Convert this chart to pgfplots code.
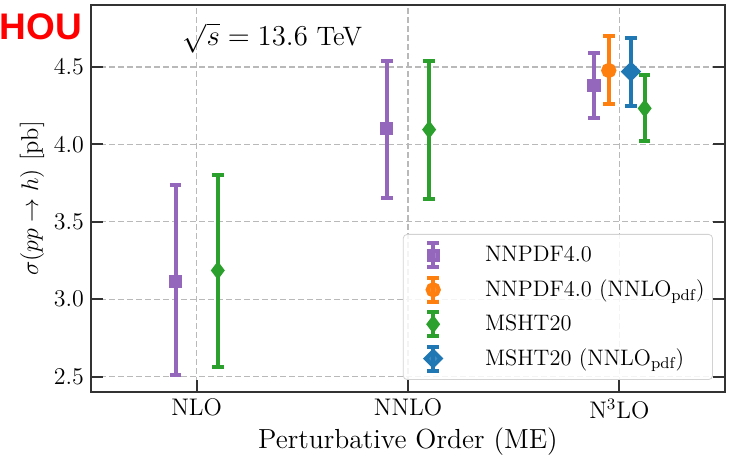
\documentclass[border=0pt]{standalone}
\usepackage{fontspec}
\usepackage{pgfplots}
\pgfplotsset{compat=1.18}
\newfontfamily\houfont{Liberation Sans}
\definecolor{tpurple}{HTML}{9467BD}
\definecolor{torange}{HTML}{FF7F0E}
\definecolor{tgreen}{HTML}{2CA02C}
\definecolor{tblue}{HTML}{1F77B4}
\definecolor{axgray}{HTML}{333333}
\pgfplotsset{
  ebar/.style={only marks, line width=2pt,
    error bars/y dir=both, error bars/y explicit,
    error bars/error bar style={line width=2pt},
    error bars/error mark options={rotate=90, mark size=2.9pt, line width=2pt}},
}
\newcommand{\lgap}{\hspace*{20pt}}
\begin{document}
\begin{tikzpicture}
\begin{axis}[
  scale only axis, width=317pt, height=193.5pt,
  xmin=-0.5, xmax=2.5, ymin=2.4, ymax=4.9,
  xtick={0,1,2}, xticklabels={NLO,NNLO,N$^3$LO},
  ytick={2.5,3.0,3.5,4.0,4.5},
  yticklabels={$2.5$,$3.0$,$3.5$,$4.0$,$4.5$},
  xtick pos=left, ytick pos=both,
  tick align=inside, major tick length=6pt,
  tick style={axgray, line width=1pt},
  axis line style={axgray, line width=1pt},
  grid=major,
  major grid style={dashed, dash pattern=on 3pt off 1.5pt, gray!55, line width=0.6pt},
  tick label style={font=\fontsize{12}{14.4}\selectfont},
  xlabel={Perturbative Order (ME)},
  ylabel={$\sigma(pp \to h)$ [pb]},
  label style={font=\fontsize{13.8}{16}\selectfont},
  xlabel style={at={(axis description cs:0.5,-0.127)}, anchor=center},
  ylabel style={at={(axis description cs:-0.093,0.5)}, anchor=center, font=\fontsize{12.2}{14.6}\selectfont},
  clip=false,
  legend cell align=left,
  legend style={at={(rel axis cs:0.981,0.031)}, anchor=south east,
    draw=gray!35, rounded corners=2pt, fill=white, fill opacity=0.85, text opacity=1,
    font=\fontsize{11.2}{13.4}\selectfont, row sep=3.2pt, inner xsep=2pt, inner ysep=3.5pt},
  legend image code/.code={
    \draw[draw=none, fill=none] (0pt,-6pt) rectangle (16pt,6pt);
    \draw[#1, line width=2pt, mark=none] (13pt,-6pt) -- (13pt,6pt)
       (13pt-2.9pt,-6pt) -- (13pt+2.9pt,-6pt) (13pt-2.9pt,6pt) -- (13pt+2.9pt,6pt);
    \draw[#1, only marks] plot coordinates {(13pt,0pt)};
  },
]
% NNPDF4.0
\addplot[ebar, tpurple, mark=square*, mark size=2.3pt, mark options={tpurple}] coordinates {
  (-0.1,3.115) += (0,0.620) -= (0,0.605)
  (0.9,4.100) += (0,0.440) -= (0,0.445)
  (1.88,4.380) += (0,0.210) -= (0,0.210)
};
\addlegendentry{\lgap NNPDF4.0}
% NNPDF4.0 (NNLO_pdf)
\addplot[ebar, torange, mark=*, mark size=2.8pt, mark options={torange}] coordinates {
  (1.95,4.477) += (0,0.220) -= (0,0.217)
};
\addlegendentry{\lgap NNPDF4.0 (NNLO$_{\mathrm{pdf}}$)}
% MSHT20
\addplot[ebar, tgreen, mark=diamond*, mark size=3pt, mark options={tgreen}] coordinates {
  (0.1,3.185) += (0,0.615) -= (0,0.625)
  (1.1,4.095) += (0,0.440) -= (0,0.450)
  (2.12,4.232) += (0,0.213) -= (0,0.212)
};
\addlegendentry{\lgap MSHT20}
% MSHT20 (NNLO_pdf)
\addplot[ebar, tblue, mark=square*, mark size=2.6pt, mark options={tblue, rotate=45}] coordinates {
  (2.055,4.470) += (0,0.215) -= (0,0.225)
};
\addlegendentry{\lgap MSHT20 (NNLO$_{\mathrm{pdf}}$)}
\node[font=\fontsize{13.3}{15.5}\selectfont, inner sep=1pt] at (rel axis cs:0.286,0.915) {$\sqrt{s} = 13.6$ TeV};
\node[font=\houfont\bfseries\fontsize{18.5}{20}\selectfont, text=red, inner sep=0pt] at (rel axis cs:-0.079,0.943) {HOU};
\end{axis}
\pgfresetboundingbox
\path (-45.5pt,-33pt) rectangle (319pt,196pt);
\end{tikzpicture}
\end{document}
